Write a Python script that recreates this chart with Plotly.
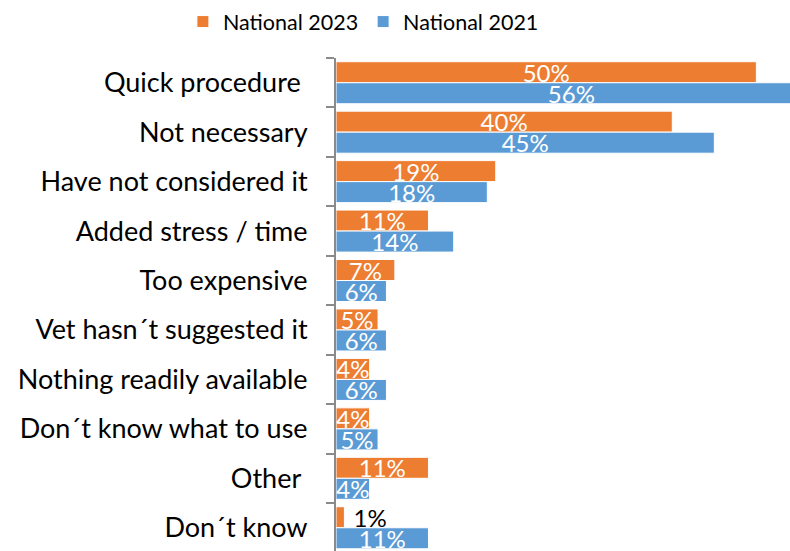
import plotly.graph_objects as go

# Reasons given, top to bottom
categories = [
    "Quick procedure\u00a0",
    "Not necessary",
    "Have not considered it",
    "Added stress / time",
    "Too expensive",
    "Vet hasn´t suggested it",
    "Nothing readily available",
    "Don´t know what to use",
    "Other\u00a0",
    "Don´t know",
]
national_2023 = [50, 40, 19, 11, 7, 5, 4, 4, 11, 1]
national_2021 = [56, 45, 18, 14, 6, 6, 6, 5, 4, 11]

ORANGE = "#ED7D31"
BLUE = "#5B9BD5"
AXIS_GREY = "#8A8A8A"
FONT = "Lato"


def label_style(values):
    """Labels sit inside the bar in white; a bar too short for it gets the label outside in black."""
    text = [f"\u00a0{v}%" if v < 2 else f"{v}%" for v in values]
    pos = ["outside" if v < 2 else "inside" for v in values]
    col = ["#000000" if v < 2 else "#FFFFFF" for v in values]
    return text, pos, col


fig = go.Figure()
for name, vals, color in [("National 2023", national_2023, ORANGE),
                          ("National 2021", national_2021, BLUE)]:
    text, pos, col = label_style(vals)
    fig.add_trace(go.Bar(
        name=name,
        y=categories,
        x=vals,
        orientation="h",
        marker=dict(color=color, line=dict(color="#FFFFFF", width=1)),
        text=text,
        textposition=pos,
        insidetextanchor="middle",
        textangle=0,
        constraintext="none",
        cliponaxis=True,
        textfont=dict(family=FONT, size=24, color=col),
    ))

fig.update_layout(
    width=790,
    height=551,
    margin=dict(l=336, r=0, t=58, b=0),
    paper_bgcolor="white",
    plot_bgcolor="white",
    barmode="group",
    bargap=0.15,
    bargroupgap=0,
    font=dict(family=FONT, color="#000000"),
    legend=dict(
        orientation="h",
        xref="container", x=0.46, xanchor="center",
        yref="container", y=0.998, yanchor="top",
        font=dict(family=FONT, size=21.5, color="#000000"),
        itemwidth=30,
        traceorder="normal",
    ),
    xaxis=dict(
        range=[0, 54.0],
        visible=False,
        showgrid=False,
        zeroline=False,
    ),
    yaxis=dict(
        type="category",
        categoryorder="array",
        categoryarray=categories,
        range=[9.47, -0.5],
        showline=True,
        linecolor=AXIS_GREY,
        linewidth=2,
        ticks="outside",
        tickson="boundaries",
        ticklen=8,
        tickwidth=2,
        tickcolor=AXIS_GREY,
        ticklabelstandoff=21,
        tickfont=dict(family=FONT, size=27, color="#000000"),
        showgrid=False,
        zeroline=False,
    ),
)

fig.write_html("out.html")
